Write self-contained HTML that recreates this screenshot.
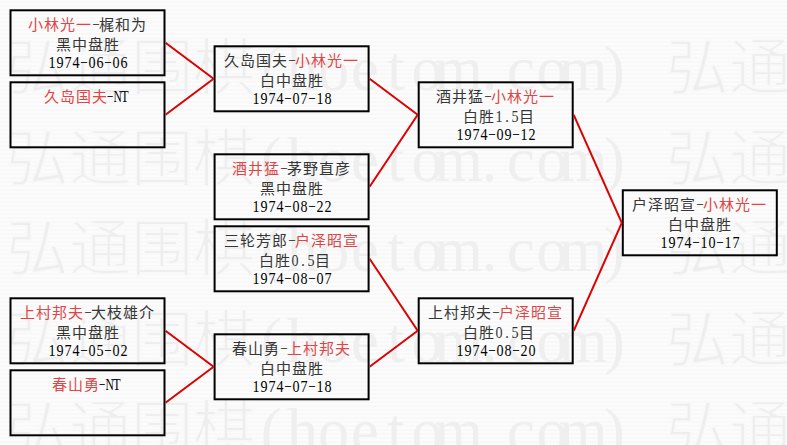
<!DOCTYPE html>
<html lang="zh-CN"><head><meta charset="utf-8"><title>bracket</title>
<style>
html,body{margin:0;padding:0}
body{width:787px;height:445px;overflow:hidden;background:repeating-linear-gradient(to bottom,#fcfcfc 0,#fcfcfc 1px,#f8f8f8 1px,#f8f8f8 3px,#fcfcfc 3px,#fcfcfc 4px);position:relative;font-family:"Liberation Serif",serif;}
svg{position:absolute;left:0;top:0}
.wm text{text-anchor:middle;font-family:"Liberation Serif",serif;font-size:62.4px;fill:#eeeeee}
.wm .c{stroke:#f9f9f9;stroke-width:1.8px}.wm .a{fill:#efefef}
.bx rect{fill:none;stroke:#000;stroke-width:2}
.ln line{stroke:#dc0000;stroke-width:2}
.b{position:absolute;width:156px;text-align:center;font-size:16px;color:#363636}
.b p{margin:0;height:20px;line-height:20px;white-space:nowrap}
.b i{font-style:normal;display:inline-block;width:8px;text-align:center;font-size:16px;letter-spacing:0}
.b i.n{width:5.5px;margin-left:-1.5px;color:#000}
.b i.hn{width:7px}.b i.nN{width:8px;margin-left:0}.b i.nT{width:7.5px;margin-left:0}
.b i.h>b,.b i.d>b{display:inline-block;font-weight:normal}
.b i.h>b{transform:translateY(-2px) scaleX(.75)}
.b i.d>b{transform:scaleX(.88)}
.b i.n.h>b{transform:translateY(-2px) scaleX(.65)}
.b i.nN>b{transform:scaleX(.72)}.b i.nT>b{transform:scaleX(.78)}
.b p{font-size:15px;letter-spacing:1px;position:relative}
.b .l3{color:#000}.b .l1{top:-0.6px}.b .l2{top:-0.4px}.b .l3{top:-2px}
.r{color:#e04545}
.b .l1.nt{left:-2px}
</style></head><body>
<svg class="wm" width="787" height="445"><text class="c" x="-622.8 -560.4 -498 -435.6" y="90">弘通围棋</text><text class="a" x="-388.8 -357.6 -326.4 -295.2 -264 -232.8 -201.6 -170.4 -139.2 -108 -76.8 -45.6" y="90">(hoetom.com)</text><text class="c" x="37.2 99.6 162 224.4" y="90">弘通围棋</text><text class="a" x="271.2 302.4 333.6 364.8 396 427.2 458.4 489.6 520.8 552 583.2 614.4" y="90">(hoetom.com)</text><text class="c" x="697.2 759.6 822 884.4" y="90">弘通围棋</text><text class="a" x="931.2 962.4 993.6 1024.8 1056 1087.2 1118.4 1149.6 1180.8 1212 1243.2 1274.4" y="90">(hoetom.com)</text><text class="c" x="-622.8 -560.4 -498 -435.6" y="180.5">弘通围棋</text><text class="a" x="-388.8 -357.6 -326.4 -295.2 -264 -232.8 -201.6 -170.4 -139.2 -108 -76.8 -45.6" y="180.5">(hoetom.com)</text><text class="c" x="37.2 99.6 162 224.4" y="180.5">弘通围棋</text><text class="a" x="271.2 302.4 333.6 364.8 396 427.2 458.4 489.6 520.8 552 583.2 614.4" y="180.5">(hoetom.com)</text><text class="c" x="697.2 759.6 822 884.4" y="180.5">弘通围棋</text><text class="a" x="931.2 962.4 993.6 1024.8 1056 1087.2 1118.4 1149.6 1180.8 1212 1243.2 1274.4" y="180.5">(hoetom.com)</text><text class="c" x="-622.8 -560.4 -498 -435.6" y="271">弘通围棋</text><text class="a" x="-388.8 -357.6 -326.4 -295.2 -264 -232.8 -201.6 -170.4 -139.2 -108 -76.8 -45.6" y="271">(hoetom.com)</text><text class="c" x="37.2 99.6 162 224.4" y="271">弘通围棋</text><text class="a" x="271.2 302.4 333.6 364.8 396 427.2 458.4 489.6 520.8 552 583.2 614.4" y="271">(hoetom.com)</text><text class="c" x="697.2 759.6 822 884.4" y="271">弘通围棋</text><text class="a" x="931.2 962.4 993.6 1024.8 1056 1087.2 1118.4 1149.6 1180.8 1212 1243.2 1274.4" y="271">(hoetom.com)</text><text class="c" x="-622.8 -560.4 -498 -435.6" y="361.5">弘通围棋</text><text class="a" x="-388.8 -357.6 -326.4 -295.2 -264 -232.8 -201.6 -170.4 -139.2 -108 -76.8 -45.6" y="361.5">(hoetom.com)</text><text class="c" x="37.2 99.6 162 224.4" y="361.5">弘通围棋</text><text class="a" x="271.2 302.4 333.6 364.8 396 427.2 458.4 489.6 520.8 552 583.2 614.4" y="361.5">(hoetom.com)</text><text class="c" x="697.2 759.6 822 884.4" y="361.5">弘通围棋</text><text class="a" x="931.2 962.4 993.6 1024.8 1056 1087.2 1118.4 1149.6 1180.8 1212 1243.2 1274.4" y="361.5">(hoetom.com)</text><text class="c" x="-622.8 -560.4 -498 -435.6" y="452">弘通围棋</text><text class="a" x="-388.8 -357.6 -326.4 -295.2 -264 -232.8 -201.6 -170.4 -139.2 -108 -76.8 -45.6" y="452">(hoetom.com)</text><text class="c" x="37.2 99.6 162 224.4" y="452">弘通围棋</text><text class="a" x="271.2 302.4 333.6 364.8 396 427.2 458.4 489.6 520.8 552 583.2 614.4" y="452">(hoetom.com)</text><text class="c" x="697.2 759.6 822 884.4" y="452">弘通围棋</text><text class="a" x="931.2 962.4 993.6 1024.8 1056 1087.2 1118.4 1149.6 1180.8 1212 1243.2 1274.4" y="452">(hoetom.com)</text><text class="c" x="-622.8 -560.4 -498 -435.6" y="542.5">弘通围棋</text><text class="a" x="-388.8 -357.6 -326.4 -295.2 -264 -232.8 -201.6 -170.4 -139.2 -108 -76.8 -45.6" y="542.5">(hoetom.com)</text><text class="c" x="37.2 99.6 162 224.4" y="542.5">弘通围棋</text><text class="a" x="271.2 302.4 333.6 364.8 396 427.2 458.4 489.6 520.8 552 583.2 614.4" y="542.5">(hoetom.com)</text><text class="c" x="697.2 759.6 822 884.4" y="542.5">弘通围棋</text><text class="a" x="931.2 962.4 993.6 1024.8 1056 1087.2 1118.4 1149.6 1180.8 1212 1243.2 1274.4" y="542.5">(hoetom.com)</text></svg>
<svg class="bx ln" width="787" height="445"><g class="bx"><rect x="10.5" y="10.3" width="154" height="65"/><rect x="10.5" y="82.3" width="154" height="65"/><rect x="10.5" y="298.3" width="154" height="65"/><rect x="10.5" y="370.3" width="154" height="65"/><rect x="214.6" y="46.3" width="154" height="65"/><rect x="214.6" y="154.3" width="154" height="65"/><rect x="214.6" y="226.3" width="154" height="65"/><rect x="214.6" y="334.3" width="154" height="65"/><rect x="418.7" y="82.3" width="154" height="65"/><rect x="418.7" y="298.3" width="154" height="65"/><rect x="622.8" y="190.3" width="154" height="65"/></g><g class="ln"><line x1="165.5" y1="42.8" x2="213.6" y2="78.8"/><line x1="165.5" y1="114.8" x2="213.6" y2="78.8"/><line x1="165.5" y1="330.8" x2="213.6" y2="366.8"/><line x1="165.5" y1="402.8" x2="213.6" y2="366.8"/><line x1="369.6" y1="78.8" x2="417.7" y2="114.8"/><line x1="369.6" y1="186.8" x2="417.7" y2="114.8"/><line x1="369.6" y1="258.8" x2="417.7" y2="330.8"/><line x1="369.6" y1="366.8" x2="417.7" y2="330.8"/><line x1="573.7" y1="114.8" x2="621.8" y2="222.8"/><line x1="573.7" y1="330.8" x2="621.8" y2="222.8"/></g></svg>
<div class="b" style="left:9.5px;top:15.3px"><p class="l1"><span class="r">小林光一</span><span class="k"><i class="h hn"><b>&#8211;</b></i>梶和为</span></p><p class="l2">黑中盘胜</p><p class="l3"><i class="d"><b>1</b></i><i class="d"><b>9</b></i><i class="d"><b>7</b></i><i class="d"><b>4</b></i><i class="h"><b>&#8211;</b></i><i class="d"><b>0</b></i><i class="d"><b>6</b></i><i class="h"><b>&#8211;</b></i><i class="d"><b>0</b></i><i class="d"><b>6</b></i></p></div>
<div class="b" style="left:9.5px;top:87.3px"><p class="l1 nt"><span class="r">久岛国夫</span><span class="k"><i class="n h"><b>&#8211;</b></i><i class="n d nN"><b>N</b></i><i class="n d nT"><b>T</b></i></span></p><p class="l2"></p><p class="l3"></p></div>
<div class="b" style="left:9.5px;top:303.3px"><p class="l1"><span class="r">上村邦夫</span><span class="k"><i class="h hn"><b>&#8211;</b></i>大枝雄介</span></p><p class="l2">黑中盘胜</p><p class="l3"><i class="d"><b>1</b></i><i class="d"><b>9</b></i><i class="d"><b>7</b></i><i class="d"><b>4</b></i><i class="h"><b>&#8211;</b></i><i class="d"><b>0</b></i><i class="d"><b>5</b></i><i class="h"><b>&#8211;</b></i><i class="d"><b>0</b></i><i class="d"><b>2</b></i></p></div>
<div class="b" style="left:9.5px;top:375.3px"><p class="l1 nt"><span class="r">春山勇</span><span class="k"><i class="n h"><b>&#8211;</b></i><i class="n d nN"><b>N</b></i><i class="n d nT"><b>T</b></i></span></p><p class="l2"></p><p class="l3"></p></div>
<div class="b" style="left:213.6px;top:51.3px"><p class="l1"><span class="k">久岛国夫<i class="h hn"><b>&#8211;</b></i></span><span class="r">小林光一</span></p><p class="l2">白中盘胜</p><p class="l3"><i class="d"><b>1</b></i><i class="d"><b>9</b></i><i class="d"><b>7</b></i><i class="d"><b>4</b></i><i class="h"><b>&#8211;</b></i><i class="d"><b>0</b></i><i class="d"><b>7</b></i><i class="h"><b>&#8211;</b></i><i class="d"><b>1</b></i><i class="d"><b>8</b></i></p></div>
<div class="b" style="left:213.6px;top:159.3px"><p class="l1"><span class="r">酒井猛</span><span class="k"><i class="h hn"><b>&#8211;</b></i>茅野直彦</span></p><p class="l2">黑中盘胜</p><p class="l3"><i class="d"><b>1</b></i><i class="d"><b>9</b></i><i class="d"><b>7</b></i><i class="d"><b>4</b></i><i class="h"><b>&#8211;</b></i><i class="d"><b>0</b></i><i class="d"><b>8</b></i><i class="h"><b>&#8211;</b></i><i class="d"><b>2</b></i><i class="d"><b>2</b></i></p></div>
<div class="b" style="left:213.6px;top:231.3px"><p class="l1"><span class="k">三轮芳郎<i class="h hn"><b>&#8211;</b></i></span><span class="r">户泽昭宣</span></p><p class="l2" style="left:3px">白胜<i class="d"><b>0</b></i><i class="d"><b>.</b></i><i class="d"><b>5</b></i>目</p><p class="l3"><i class="d"><b>1</b></i><i class="d"><b>9</b></i><i class="d"><b>7</b></i><i class="d"><b>4</b></i><i class="h"><b>&#8211;</b></i><i class="d"><b>0</b></i><i class="d"><b>8</b></i><i class="h"><b>&#8211;</b></i><i class="d"><b>0</b></i><i class="d"><b>7</b></i></p></div>
<div class="b" style="left:213.6px;top:339.3px"><p class="l1"><span class="k">春山勇<i class="h hn"><b>&#8211;</b></i></span><span class="r">上村邦夫</span></p><p class="l2">白中盘胜</p><p class="l3"><i class="d"><b>1</b></i><i class="d"><b>9</b></i><i class="d"><b>7</b></i><i class="d"><b>4</b></i><i class="h"><b>&#8211;</b></i><i class="d"><b>0</b></i><i class="d"><b>7</b></i><i class="h"><b>&#8211;</b></i><i class="d"><b>1</b></i><i class="d"><b>8</b></i></p></div>
<div class="b" style="left:417.7px;top:87.3px"><p class="l1"><span class="k">酒井猛<i class="h hn"><b>&#8211;</b></i></span><span class="r">小林光一</span></p><p class="l2" style="left:3px">白胜<i class="d"><b>1</b></i><i class="d"><b>.</b></i><i class="d"><b>5</b></i>目</p><p class="l3"><i class="d"><b>1</b></i><i class="d"><b>9</b></i><i class="d"><b>7</b></i><i class="d"><b>4</b></i><i class="h"><b>&#8211;</b></i><i class="d"><b>0</b></i><i class="d"><b>9</b></i><i class="h"><b>&#8211;</b></i><i class="d"><b>1</b></i><i class="d"><b>2</b></i></p></div>
<div class="b" style="left:417.7px;top:303.3px"><p class="l1"><span class="k">上村邦夫<i class="h hn"><b>&#8211;</b></i></span><span class="r">户泽昭宣</span></p><p class="l2" style="left:3px">白胜<i class="d"><b>0</b></i><i class="d"><b>.</b></i><i class="d"><b>5</b></i>目</p><p class="l3"><i class="d"><b>1</b></i><i class="d"><b>9</b></i><i class="d"><b>7</b></i><i class="d"><b>4</b></i><i class="h"><b>&#8211;</b></i><i class="d"><b>0</b></i><i class="d"><b>8</b></i><i class="h"><b>&#8211;</b></i><i class="d"><b>2</b></i><i class="d"><b>0</b></i></p></div>
<div class="b" style="left:621.8px;top:195.3px"><p class="l1"><span class="k">户泽昭宣<i class="h hn"><b>&#8211;</b></i></span><span class="r">小林光一</span></p><p class="l2">白中盘胜</p><p class="l3"><i class="d"><b>1</b></i><i class="d"><b>9</b></i><i class="d"><b>7</b></i><i class="d"><b>4</b></i><i class="h"><b>&#8211;</b></i><i class="d"><b>1</b></i><i class="d"><b>0</b></i><i class="h"><b>&#8211;</b></i><i class="d"><b>1</b></i><i class="d"><b>7</b></i></p></div>
</body></html>
